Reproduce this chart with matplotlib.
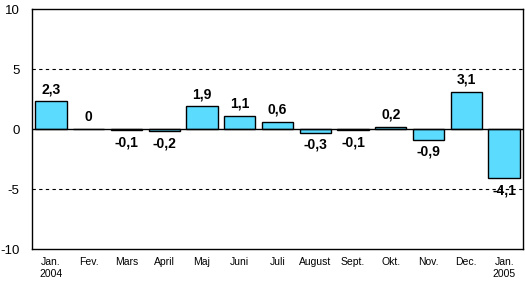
import matplotlib.pyplot as plt
import numpy as np

plt.rcParams["font.family"] = ["Liberation Sans", "DejaVu Sans"]

months = ["Jan.\n2004", "Fev.", "Mars", "April", "Maj", "Juni", "Juli",
          "August", "Sept.", "Okt.", "Nov.", "Dec.", "Jan.\n2005"]
values = [2.3, 0, -0.1, -0.2, 1.9, 1.1, 0.6, -0.3, -0.1, 0.2, -0.9, 3.1, -4.1]
labels = ["2,3", "0", "-0,1", "-0,2", "1,9", "1,1", "0,6",
          "-0,3", "-0,1", "0,2", "-0,9", "3,1", "-4,1"]

fig = plt.figure(figsize=(5.25, 2.83), dpi=100)
ax = fig.add_axes([32/525, 1 - 249/283, 491/525, 240/283])

x = np.arange(len(values))
ax.bar(x, values, width=0.83, color="#5BDCFF", edgecolor="black", linewidth=1, zorder=3)
ax.axhline(0, color="black", linewidth=1, zorder=4)
for yv in (5, -5):
    ax.axhline(yv, color="black", linewidth=0.8, linestyle=(0, (3, 3)), zorder=1)

for xi, v, lab in zip(x, values, labels):
    if v >= 0:
        ax.annotate(lab, (xi, v), xytext=(0, 3.5), textcoords="offset points",
                    ha="center", va="bottom", fontsize=10, fontweight="bold")
    else:
        ax.annotate(lab, (xi, v), xytext=(0, -3.5), textcoords="offset points",
                    ha="center", va="top", fontsize=10, fontweight="bold")

ax.set_xlim(-0.5, len(values) - 0.5)
ax.set_ylim(-10, 10)
ax.set_yticks([-10, -5, 0, 5, 10])
ax.set_yticklabels(["-10", "-5", "0", "5", "10"], fontsize=9.5)
ax.set_xticks(x)
ax.set_xticklabels(months, fontsize=7.5, va="top")
ax.tick_params(length=0, pad=6)
ax.tick_params(axis="y", pad=9)
for s in ax.spines.values():
    s.set_linewidth(1)

fig.savefig("out.png", dpi=100)
